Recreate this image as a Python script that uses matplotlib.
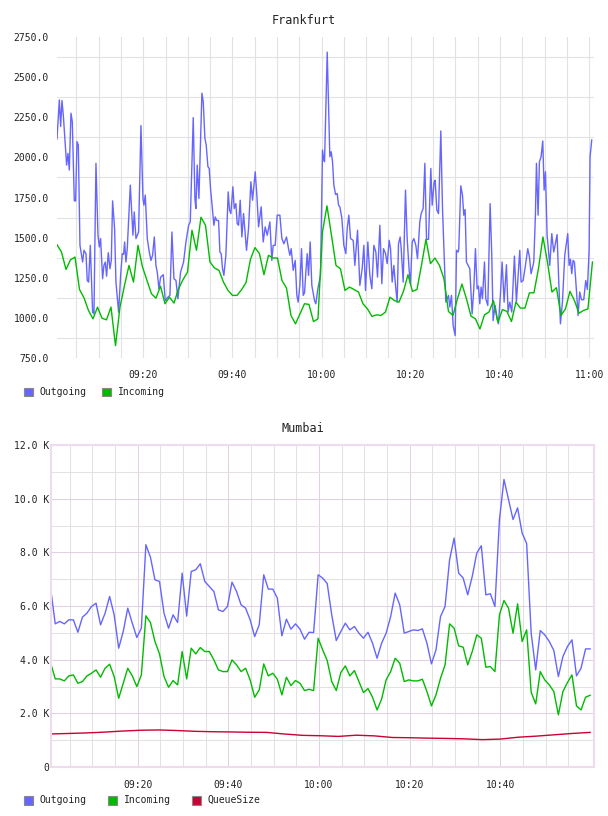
import numpy as np
import matplotlib
matplotlib.use("Agg")
import matplotlib.pyplot as plt
from matplotlib.patches import Rectangle
from matplotlib.ticker import FuncFormatter


# all times are minutes after 09:00

## FRANKFURT
fra_out_t = [0.65, 1.17, 1.47, 1.76, 2.06, 2.81, 3.11, 3.41, 3.78, 4.08, 4.53, 4.83, 5.13, 5.43, 5.80,
             6.40, 6.70, 7.15, 7.44, 7.74, 8.12, 8.64, 8.94, 9.39, 9.84, 10.14, 10.43, 10.88, 11.18,
             11.48, 11.78, 12.15, 12.53, 12.83, 13.12, 13.57, 13.87, 14.47, 14.92, 15.29, 15.59, 15.82,
             16.11, 16.41, 17.09, 17.68, 17.98, 18.36, 18.95, 19.48, 19.93, 20.15, 20.45, 20.90, 21.35,
             21.72, 22.09, 22.47, 22.84, 23.14, 23.51, 23.89, 24.49, 24.93, 25.53, 25.98, 26.43, 26.88,
             27.33, 27.77, 28.37, 29.04, 29.57, 30.17, 30.54,
             31.21, 31.58, 31.80, 32.10, 32.48, 33.15, 33.45, 33.82, 34.12, 34.50, 34.79, 35.09, 35.54,
             35.84, 36.14, 36.44, 36.89, 37.19, 37.48, 37.78, 38.08, 38.53, 39.05, 39.35, 39.65, 40.10,
             40.40, 40.77, 41.07, 41.37, 41.74, 42.12, 42.49, 43.16, 43.61, 44.14, 44.51, 45.11, 45.48,
             45.86, 46.45, 46.90, 47.35, 47.80, 48.40, 48.84, 49.14, 49.59, 50.04, 50.64, 51.09, 51.54,
             52.13, 52.58, 52.88, 53.18, 53.63, 54.08, 54.45, 54.75, 55.12, 55.50, 55.87, 56.17, 56.47,
             56.77, 57.07, 57.44, 57.81, 58.41, 58.71, 59.16, 59.76, 60.20, 60.50,
             60.66, 61.26, 61.85, 62.15, 62.45, 62.75, 63.13, 63.50, 63.80, 64.10, 64.55, 64.99, 65.44,
             65.74, 66.11, 66.49, 67.09, 67.46, 68.06, 68.58, 69.10, 69.48, 69.85, 70.37, 70.82, 71.27,
             71.72, 72.17, 72.54, 73.07, 73.51, 73.89, 74.34, 74.71, 75.16, 75.46, 75.83, 76.20, 76.65,
             76.95, 77.25, 77.62, 77.85, 78.30, 78.82, 79.19, 79.64, 79.94, 80.32, 80.69, 81.14, 81.51,
             82.03, 82.33, 82.78, 83.16, 83.53, 83.98, 84.50, 84.80, 85.25, 85.47, 85.85, 86.22, 86.74,
             87.12, 87.56, 87.86, 88.16, 88.46, 88.76, 89.13, 89.51, 89.96, 90.26, 90.63,
             90.77, 91.22, 91.60, 91.89, 92.19, 92.49, 92.87, 93.24, 93.76, 94.14, 94.51, 94.88, 95.18,
             95.48, 95.78, 96.08, 96.53, 96.83, 97.28, 97.80, 98.17, 98.47, 98.92, 99.37, 99.67, 100.12,
             100.49, 100.94, 101.46, 101.83, 102.21, 102.66, 103.25, 103.70, 104.45, 104.75, 105.20,
             105.72, 106.24, 106.62, 106.99, 107.59, 107.96, 108.19, 108.56, 108.86, 109.23, 109.61,
             109.91, 110.21, 110.58, 111.18, 111.63, 112.07, 112.37, 112.82, 113.20, 113.57, 114.02,
             114.54, 115.21, 115.51, 115.81, 116.11, 116.41, 116.71, 117.16, 117.53, 117.90, 118.28,
             118.80, 119.25, 119.62, 120.00, 120.22, 120.59]
fra_out = [2115, 2358, 2192, 2354, 2265, 1952, 2025, 1921, 2275, 2223, 1729, 1729, 2098, 2077, 1452,
           1348, 1421, 1400, 1233, 1223, 1452, 1035, 1025, 1963, 1515, 1442, 1494, 1244, 1327,
           1348, 1260, 1406, 1306, 1358, 1729, 1556, 1223, 1035, 1265, 1400, 1396, 1473,
           1348, 1431, 1827, 1515, 1660, 1494, 1535, 2198, 1744, 1702, 1765, 1494, 1410,
           1358, 1390, 1504, 1327, 1285, 1181, 1254, 1269, 1108, 1129, 1140, 1535, 1244,
           1233, 1119, 1285, 1348, 1473, 1577, 1598,
           2248, 1744, 1681, 1952, 1744, 2400, 2348, 2119, 2077, 1942, 1931, 1806, 1671,
           1577, 1629, 1608, 1606, 1410, 1400, 1306, 1265, 1390, 1785, 1671, 1650, 1817,
           1681, 1712, 1587, 1577, 1733, 1504, 1650, 1421, 1556, 1848, 1733, 1910, 1765,
           1567, 1692, 1473, 1567, 1515, 1598, 1358, 1452, 1452, 1640, 1640, 1494, 1462,
           1504, 1431, 1390, 1431, 1296, 1358, 1140, 1098, 1202, 1431, 1140, 1156, 1285,
           1400, 1265, 1473, 1202, 1108, 1088, 1181, 1265, 2046, 1983,
           1973, 2656, 2004, 2035, 1973, 1827, 1769, 1775, 1702, 1692, 1619, 1452, 1400,
           1556, 1640, 1494, 1483, 1327, 1546, 1202, 1306, 1452, 1171, 1473, 1265, 1181,
           1452, 1410, 1254, 1577, 1213, 1431, 1400, 1338, 1483, 1431, 1223, 1327, 1181,
           1098, 1462, 1504, 1431, 1223, 1796, 1494, 1296, 1213, 1473, 1494, 1452, 1369,
           1598, 1650, 1681, 1963, 1489, 1489, 1931, 1702, 1848, 1858, 1671, 1650, 2165,
           1681, 1327, 1098, 1119, 1140, 1067, 1140, 952, 890, 1421, 1410,
           1431, 1823, 1765, 1640, 1675, 1348, 1327, 1306, 1025, 1181, 1431, 1181, 1198,
           1088, 1192, 1119, 1348, 1119, 1077, 1712, 1390, 983, 1077, 994, 963, 1150,
           1348, 1098, 1331, 1036, 1098, 1036, 1385, 1098, 1421, 1223, 1233,
           1327, 1431, 1379, 1275, 1348, 1640, 1963, 1640, 1973, 2004, 2102,
           1796, 1910, 1515, 1327, 1525, 1410, 1452, 1519, 1223, 963, 1098,
           1390, 1525, 1327, 1365, 1275, 1358, 1348, 1171, 1015, 1161, 1113,
           1113, 1233, 1177, 1421, 2004, 2108]
# incoming, one sample per minute
fra_in = [1456, 1410, 1302, 1362, 1379, 1177, 1125, 1046, 994, 1067, 998, 988, 1067, 827, 1067,
          1202, 1327, 1223, 1452, 1317, 1233, 1150, 1123, 1198, 1088, 1129, 1092, 1181, 1238, 1285,
          1546, 1421, 1627, 1577, 1348, 1311, 1296, 1223, 1171, 1140, 1140, 1175, 1219, 1365, 1438,
          1400, 1269, 1390, 1373, 1373, 1233, 1186, 1015, 963, 1025, 1088, 1084, 977, 994, 1535,
          1698, 1515, 1327, 1306, 1171, 1192, 1177, 1161, 1088, 1056, 1009, 1019, 1015, 1036, 1129,
          1108, 1098, 1165, 1269, 1165, 1177, 1327, 1489, 1338, 1373, 1327, 1244, 1040, 1015, 1119,
          1211, 1119, 1011, 994, 931, 1019, 1036, 1108, 973, 1052, 1040, 977, 1098, 1061, 1061,
          1156, 1156, 1306, 1504, 1348, 1161, 1188, 1015, 1056, 1165, 1108, 1029, 1046, 1056, 1348]
fra_in_first, fra_in_last = 0.65, 120.75

## MUMBAI (one sample per minute)
mum_out = [6641, 5335, 5426, 5335, 5484, 5484, 5022, 5584, 5733, 5982, 6106, 5298, 5733, 6355, 5671,
           4427, 5049, 5920, 5360, 4825, 5173, 8283, 7822, 6976, 6914, 5733, 5173, 5671, 5385, 7226,
           5621, 7288, 7350, 7574, 6914, 6727, 6541, 5857, 5795, 5982, 6889, 6541, 6044, 5920, 5484,
           4862, 5298, 7164, 6629, 6629, 6293, 4887, 5509, 5136, 5335, 5136, 4763, 5022, 5010, 7164,
           7040, 6839, 5671, 4713, 5049, 5360, 5111, 5236, 4987, 4800, 5022, 4614, 4054, 4614, 4987,
           5609, 6480, 6044, 4987, 5049, 5111, 5086, 5148, 4614, 3842, 4365, 5609, 5982, 7723, 8532,
           7226, 7040, 6417, 7102, 7972, 8246, 6417, 6455, 5982, 9222, 10715, 9969, 9222, 9657, 8724,
           8326, 4987, 3619, 5086, 4924, 4676, 4340, 3370, 4116, 4489, 4738, 3395, 3681, 4402, 4402]
mum_in = [3867, 3283, 3283, 3209, 3395, 3432, 3121, 3183, 3395, 3494, 3619, 3346, 3681, 3830, 3370,
          2562, 3121, 3681, 3395, 2997, 3432, 5634, 5385, 4676, 4216, 3370, 2972, 3221, 3059, 4303,
          3283, 4427, 4216, 4452, 4303, 4303, 3992, 3619, 3556, 3556, 3992, 3805, 3556, 3681, 3246,
          2600, 2873, 3842, 3395, 3494, 3271, 2687, 3346, 3034, 3221, 3121, 2848, 2898, 2848, 4800,
          4365, 3967, 3183, 2848, 3519, 3768, 3395, 3594, 3183, 2774, 2923, 2600, 2127, 2525, 3246,
          3556, 4054, 3867, 3183, 3246, 3209, 3209, 3271, 2811, 2277, 2687, 3308, 3805, 5335, 5173,
          4515, 4465, 3805, 4303, 4924, 4800, 3718, 3743, 3556, 5671, 6205, 5920, 4987, 6081, 4676,
          5111, 2786, 2351, 3556, 3246, 3059, 2811, 1944, 2811, 3146, 3432, 2277, 2127, 2600, 2674]
mum_first = 0.8
# queue size, every ~4 minutes
mum_queue = [1231, 1250, 1270, 1300, 1340, 1370, 1380, 1360, 1330, 1315, 1306, 1295, 1290, 1230, 1180,
             1165, 1140, 1185, 1160, 1100, 1090, 1075, 1065, 1050, 1020, 1040, 1110, 1150, 1200, 1250,
             1290]
mum_queue_last = 119.8

BLUE = "#6666ff"
GREEN = "#00bb00"
RED = "#cc0033"
MONO = "DejaVu Sans Mono"


def hhmm(m, pos=None):
    m = int(round(m))
    return "%02d:%02d" % (9 + m // 60, m % 60)


fig = plt.figure(figsize=(6.08, 8.16), dpi=100)

# --- Frankfurt
ax1 = fig.add_axes([57 / 608, 1 - 358 / 816, (594 - 57) / 608, 321 / 816])
fra_in_t = np.linspace(fra_in_first, fra_in_last, len(fra_in))
ax1.plot(fra_out_t, fra_out, color=BLUE, lw=1.0)
ax1.plot(fra_in_t, fra_in, color=GREEN, lw=1.0)
ax1.set_xlim(0.65, 121.1)
ax1.set_ylim(750, 2750)
ax1.set_yticks(np.arange(750, 2751, 250))
ax1.set_yticks(np.arange(875, 2700, 250), minor=True)
ax1.yaxis.set_major_formatter(FuncFormatter(lambda v, p: "%.1f" % v))
ax1.set_xticks(np.arange(20, 121, 20))
ax1.set_xticks(np.arange(5, 121, 5), minor=True)
ax1.xaxis.set_major_formatter(FuncFormatter(hhmm))
ax1.grid(axis="y", which="minor", color="#e2e2e2", lw=0.8)
ax1.grid(axis="x", which="both", color="#e2e2e2", lw=0.8)
ax1.set_axisbelow(True)
for s in ax1.spines.values():
    s.set_visible(False)
ax1.tick_params(which="both", length=0)
ax1.tick_params(axis="y", pad=6)
ax1.tick_params(axis="x", pad=9)
for lab in ax1.get_xticklabels() + ax1.get_yticklabels():
    lab.set_fontfamily(MONO)
    lab.set_fontsize(7)
    lab.set_color("#222222")
fig.text(304 / 608, 1 - 20 / 816, "Frankfurt", ha="center", va="center", family=MONO, size=8.5,
         color="#222222")

# --- Mumbai
ax2 = fig.add_axes([50.7 / 608, 1 - 767 / 816, (594 - 50.7) / 608, 322 / 816])
mum_t = mum_first + np.arange(len(mum_out))
q_t = np.linspace(mum_first, mum_queue_last, len(mum_queue))
ax2.plot(mum_t, mum_out, color=BLUE, lw=1.0)
ax2.plot(mum_t, mum_in, color=GREEN, lw=1.0)
ax2.plot(q_t, mum_queue, color=RED, lw=1.0)
ax2.set_xlim(0.8, 120.66)
ax2.set_ylim(0, 12000)
ax2.set_yticks(np.arange(0, 12001, 2000))
ax2.set_yticks(np.arange(1000, 12000, 2000), minor=True)
ax2.yaxis.set_major_formatter(FuncFormatter(lambda v, p: "0" if v == 0 else "%.1f K" % (v / 1000)))
ax2.set_xticks(np.arange(20, 101, 20))
ax2.set_xticks([m for m in range(5, 120, 5) if m % 20], minor=True)
ax2.xaxis.set_major_formatter(FuncFormatter(hhmm))
ax2.grid(which="major", color="#e4d0e4", lw=0.75)
ax2.grid(which="minor", color="#e2e2e2", lw=0.75)
ax2.set_axisbelow(True)
for s in ax2.spines.values():
    s.set_color("#eedcee")
    s.set_linewidth(1.5)
ax2.tick_params(which="both", length=0)
ax2.tick_params(axis="y", pad=1)
ax2.tick_params(axis="x", pad=9)
for lab in ax2.get_xticklabels() + ax2.get_yticklabels():
    lab.set_fontfamily(MONO)
    lab.set_fontsize(7)
    lab.set_color("#222222")
fig.text(303 / 608, 1 - 428 / 816, "Mumbai", ha="center", va="center", family=MONO, size=8.5,
         color="#222222")


# --- legends drawn by hand, as in the original
def legend_item(x_box, x_text, y, color, label):
    fig.add_artist(Rectangle((x_box / 608, 1 - (y + 4.5) / 816), 9 / 608, 9 / 816,
                             transform=fig.transFigure, facecolor=color, edgecolor="#888888", lw=0.8))
    fig.text(x_text / 608, 1 - y / 816, label, ha="left", va="center", family=MONO, size=7,
             color="#222222")


legend_item(24, 39, 392, BLUE, "Outgoing")
legend_item(102, 118, 392, GREEN, "Incoming")
legend_item(24, 39, 800, BLUE, "Outgoing")
legend_item(108, 124, 800, GREEN, "Incoming")
legend_item(192, 207, 800, RED, "QueueSize")

fig.savefig("out.png", dpi=100)
